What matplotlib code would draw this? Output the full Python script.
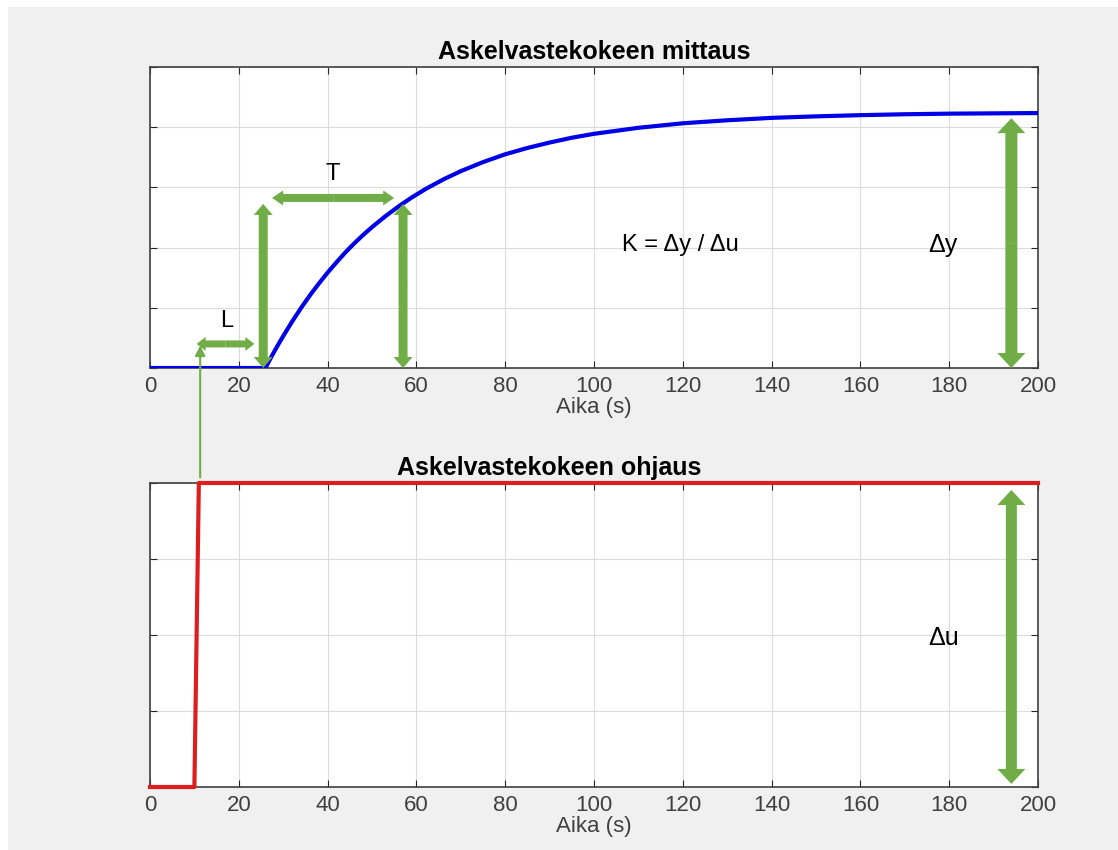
"""
Askelvastekoe: mitattu vaste (ylä) ja ohjausaskel (ala), merkittynä L, T, Δy ja Δu.
"""

import matplotlib.pyplot as plt
from matplotlib.patches import FancyArrowPatch, ConnectionPatch, Rectangle

# ── data luettu kuvasta ──────────────────────────────────────────────────────
t_y = [0, 26, 27, 28, 29, 30, 32, 34, 36, 38, 40, 42, 44, 46, 48, 50, 53, 56,
       59, 62, 66, 70, 75, 80, 85, 90, 95, 100, 110, 120, 130, 140, 150, 160,
       170, 180, 200]
y_meas = [0, 0, 0.028, 0.055, 0.081, 0.106, 0.154, 0.199, 0.241, 0.280, 0.317,
          0.351, 0.384, 0.414, 0.442, 0.468, 0.504, 0.537, 0.567, 0.594, 0.626,
          0.654, 0.684, 0.710, 0.731, 0.749, 0.765, 0.778, 0.798, 0.813, 0.823,
          0.831, 0.836, 0.840, 0.843, 0.845, 0.847]

t_u = [0, 10, 11, 200]
u_ctrl = [0, 0, 1, 1]

x_ticks = list(range(0, 201, 20))
y_ticks_top = [0, 0.2, 0.4, 0.6, 0.8, 1.0]
y_ticks_bot = [0, 0.25, 0.5, 0.75, 1.0]

step_time = 10.5      # ohjausaskel
delay_end = 25.5      # L:n loppu (vasteen alku)
t63 = 57              # T:n loppu
y63 = 0.545
dy_top = 0.83
x_delta = 194

GREEN = "#70ad47"
FONT = ["Liberation Sans", "DejaVu Sans"]
plt.rcParams["font.family"] = FONT

PX = 72 / 100  # pikseleistä pisteiksi (dpi 100)


def double_arrow(ax, p0, p1, tail, head_w, head_l, color=GREEN):
    """Paksu kaksipäinen nuoli kahtena puolikkaana keskeltä ulospäin."""
    mid = ((p0[0] + p1[0]) / 2, (p0[1] + p1[1]) / 2)
    style = (f"simple,head_length={head_l * PX:.2f},head_width={head_w * PX:.2f},"
             f"tail_width={tail * PX:.2f}")
    for end in (p0, p1):
        ax.add_patch(FancyArrowPatch(mid, end, arrowstyle=style, mutation_scale=1,
                                     shrinkA=0, shrinkB=0, facecolor=color,
                                     edgecolor="none", lw=0, zorder=5,
                                     clip_on=False))


def style_axes(ax, yticks, title, title_x=0.5):
    ax.set_xlim(0, 200)
    ax.set_ylim(0, 1)
    ax.set_xticks(x_ticks)
    ax.set_yticks(yticks)
    ax.set_yticklabels([])
    ax.tick_params(direction="in", length=5, top=True, right=True,
                   labelsize=16, labelcolor="#404040", color="#262626", pad=6)
    ax.grid(True, color="#dcdcdc", linewidth=0.8)
    for s in ax.spines.values():
        s.set_color("#404040")
        s.set_linewidth(1.2)
    ax.set_xlabel("Aika (s)", fontsize=16, color="#404040", labelpad=0)
    ax.set_title(title, fontsize=18, fontweight="bold", x=title_x, pad=6)


fig = plt.figure(figsize=(11.18, 8.5), dpi=100)
fig.patch.set_facecolor("white")
fig.add_artist(Rectangle((8 / 1118, 0), 1, 1 - 7 / 850, transform=fig.transFigure,
                         facecolor="#f0f0f0", edgecolor="none", zorder=-10))

ax1 = fig.add_axes([150 / 1118, 1 - 368 / 850, 888 / 1118, 301 / 850])
ax2 = fig.add_axes([150 / 1118, 1 - 787 / 850, 888 / 1118, 304 / 850])

# ── yläkuva: mittaus ─────────────────────────────────────────────────────────
ax1.plot(t_y, y_meas, color="#0000e6", linewidth=3, zorder=4)
style_axes(ax1, y_ticks_top, "Askelvastekokeen mittaus")

double_arrow(ax1, (step_time, 0.08), (delay_end - 2, 0.08), 7, 14, 9)
double_arrow(ax1, (delay_end, 0.0), (delay_end, y63), 9, 19, 11)
double_arrow(ax1, (delay_end + 2, y63 + 0.02), (t63 - 2, y63 + 0.02), 8, 15, 11)
double_arrow(ax1, (t63, y63), (t63, 0.0), 9, 19, 11)
double_arrow(ax1, (x_delta, 0.0), (x_delta, dy_top), 12, 28, 15)

ax1.text((step_time + delay_end) / 2 - 0.8, 0.155, "L", fontsize=17,
         ha="center", va="center")
ax1.text((delay_end + t63) / 2, 0.645, "T", fontsize=17, ha="center", va="center")
ax1.text(119.5, 0.41, "K = Δy / Δu", fontsize=17, ha="center", va="center")
ax1.text(178.5, 0.41, "Δy", fontsize=18, ha="center", va="center")

# ── alakuva: ohjaus ──────────────────────────────────────────────────────────
ax2.plot(t_u, u_ctrl, color="#dc1e1e", linewidth=3, zorder=4, clip_on=False)
style_axes(ax2, y_ticks_bot, "Askelvastekokeen ohjaus", title_x=0.449)
double_arrow(ax2, (x_delta, 0.01), (x_delta, 0.977), 11, 28, 15)
ax2.text(178.8, 0.49, "Δu", fontsize=18, ha="center", va="center")

# ohut nuoli ohjausaskeleesta L:n alkuun
con = ConnectionPatch(xyA=(step_time + 0.8, 1.0), coordsA=ax2.transData,
                      xyB=(step_time + 0.8, 0.075), coordsB=ax1.transData,
                      arrowstyle="-|>,head_length=0.5,head_width=0.25",
                      mutation_scale=12, shrinkA=4, shrinkB=0,
                      color=GREEN, lw=1.5, zorder=6)
fig.add_artist(con)

fig.savefig("out.png", dpi=100)
